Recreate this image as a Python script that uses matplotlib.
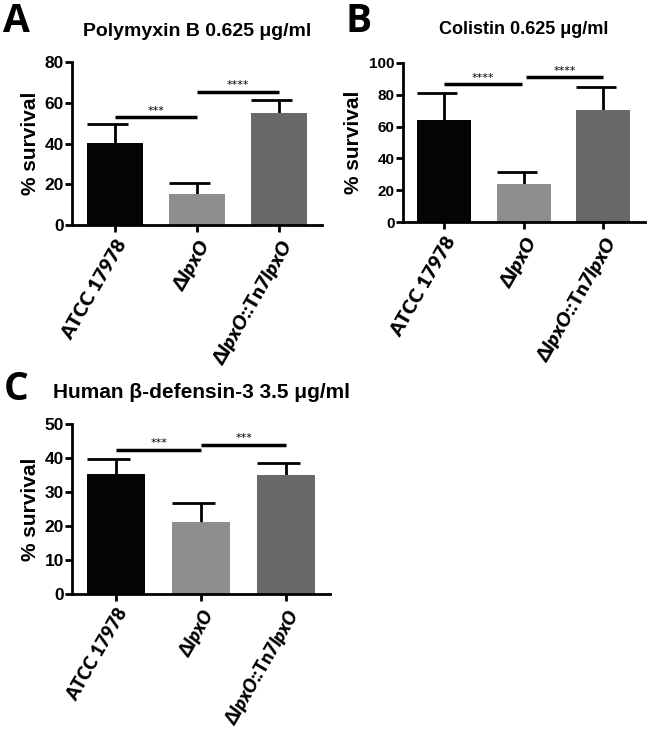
import numpy as np
import matplotlib
matplotlib.use("Agg")
import matplotlib.pyplot as plt

plt.rcParams['font.family'] = ['Liberation Sans', 'DejaVu Sans']
plt.rcParams['font.weight'] = 'bold'
plt.rcParams['mathtext.fontset'] = 'custom'
plt.rcParams['mathtext.it'] = 'Lato:italic:heavy'
plt.rcParams['mathtext.rm'] = 'Lato:heavy'

# data
strains = ['ATCC 17978', 'Δ$\\it{lpxO}$', 'Δ$\\it{lpxO}$::Tn7$\\it{lpxO}$']
bar_colors = ['#050505', '#8e8e8e', '#686868']

polymyxin_mean = [40.5, 15.2, 55.0]
polymyxin_err = [9.3, 5.5, 6.3]
polymyxin_sig = ['***', '****']
polymyxin_sig_y = [53, 65.3]

colistin_mean = [64.0, 24.0, 70.5]
colistin_err = [17.0, 7.3, 14.5]
colistin_sig = ['****', '****']
colistin_sig_y = [86.6, 91.0]

defensin_mean = [35.2, 21.3, 35.0]
defensin_err = [4.5, 5.4, 3.6]
defensin_sig = ['***', '***']
defensin_sig_y = [42.4, 43.8]

fig = plt.figure(figsize=(6.5, 7.31), dpi=100)


def panel(rect, means, errs, sigs, sig_y, ymax, ystep, tick_fs, label_x, xl_fs=14, gap=0.0):
    ax = fig.add_axes(rect)
    x = np.arange(len(means))
    w = 0.68
    ax.bar(x, means, width=w, color=bar_colors, zorder=2)
    tops = np.array(means) + np.array(errs)
    ax.vlines(x, means, tops, color='black', lw=2, zorder=1)
    ax.hlines(tops, x - w / 2, x + 0.24 * w, color='black', lw=2, zorder=1)
    # significance lines
    for i, (s, yy) in enumerate(zip(sigs, sig_y)):
        x0, x1 = i + (gap if i else 0), i + 1 - (gap if i == 0 else 0)
        ax.plot([x0, x1], [yy, yy], color='black', lw=2.5, solid_capstyle='butt')
        ax.text((x0 + x1) / 2, yy + ymax * 0.01, s, ha='center', va='bottom',
                fontsize=8, fontweight='normal', family='DejaVu Sans')
    ax.set_xlim(-0.52, 2.52)
    ax.set_ylim(0, ymax)
    ax.set_yticks(np.arange(0, ymax + 1, ystep))
    ax.set_xticks(x)
    ax.set_xticklabels(strains, rotation=60, ha='right', rotation_mode='anchor',
                       fontsize=xl_fs, family='Lato', fontweight='heavy', style='normal')
    ax.tick_params(axis='y', labelsize=tick_fs, width=2, length=5, pad=1)
    ax.tick_params(axis='x', width=2, length=5, pad=3)
    for s in ['top', 'right']:
        ax.spines[s].set_visible(False)
    for s in ['left', 'bottom']:
        ax.spines[s].set_linewidth(2)
    ax.set_ylabel('% survival', fontsize=15, fontweight='bold')
    ax.yaxis.set_label_coords(label_x, 0.5)
    return ax


axA = panel([0.111, 0.692, 0.384, 0.223], polymyxin_mean, polymyxin_err, polymyxin_sig,
            polymyxin_sig_y, 80, 20, 12.5, -0.13)
axB = panel([0.620, 0.696, 0.372, 0.218], colistin_mean, colistin_err, colistin_sig,
            colistin_sig_y, 100, 20, 11, -0.165, gap=0.03)
axC = panel([0.111, 0.187, 0.397, 0.233], defensin_mean, defensin_err, defensin_sig,
            defensin_sig_y, 50, 10, 12.5, -0.124, xl_fs=13)

fig.text(0.303, 1 - 32 / 731, 'Polymyxin B 0.625 μg/ml', ha='center', va='center',
         fontsize=14, fontweight='bold')
fig.text(0.805, 1 - 30 / 731, 'Colistin 0.625 μg/ml', ha='center', va='center',
         fontsize=13, fontweight='bold')
fig.text(0.31, 1 - 392 / 731, 'Human β-defensin-3 3.5 μg/ml', ha='center', va='center',
         fontsize=15, fontweight='bold')

for lbl, xx, yy in [('A', 0.005, 1 - 21 / 731), ('B', 0.531, 1 - 21 / 731),
                    ('C', 0.005, 1 - 390 / 731)]:
    fig.text(xx, yy, lbl, fontsize=28, fontweight='bold', family='Open Sans',
             ha='left', va='center')

fig.savefig('out.png', dpi=100)
